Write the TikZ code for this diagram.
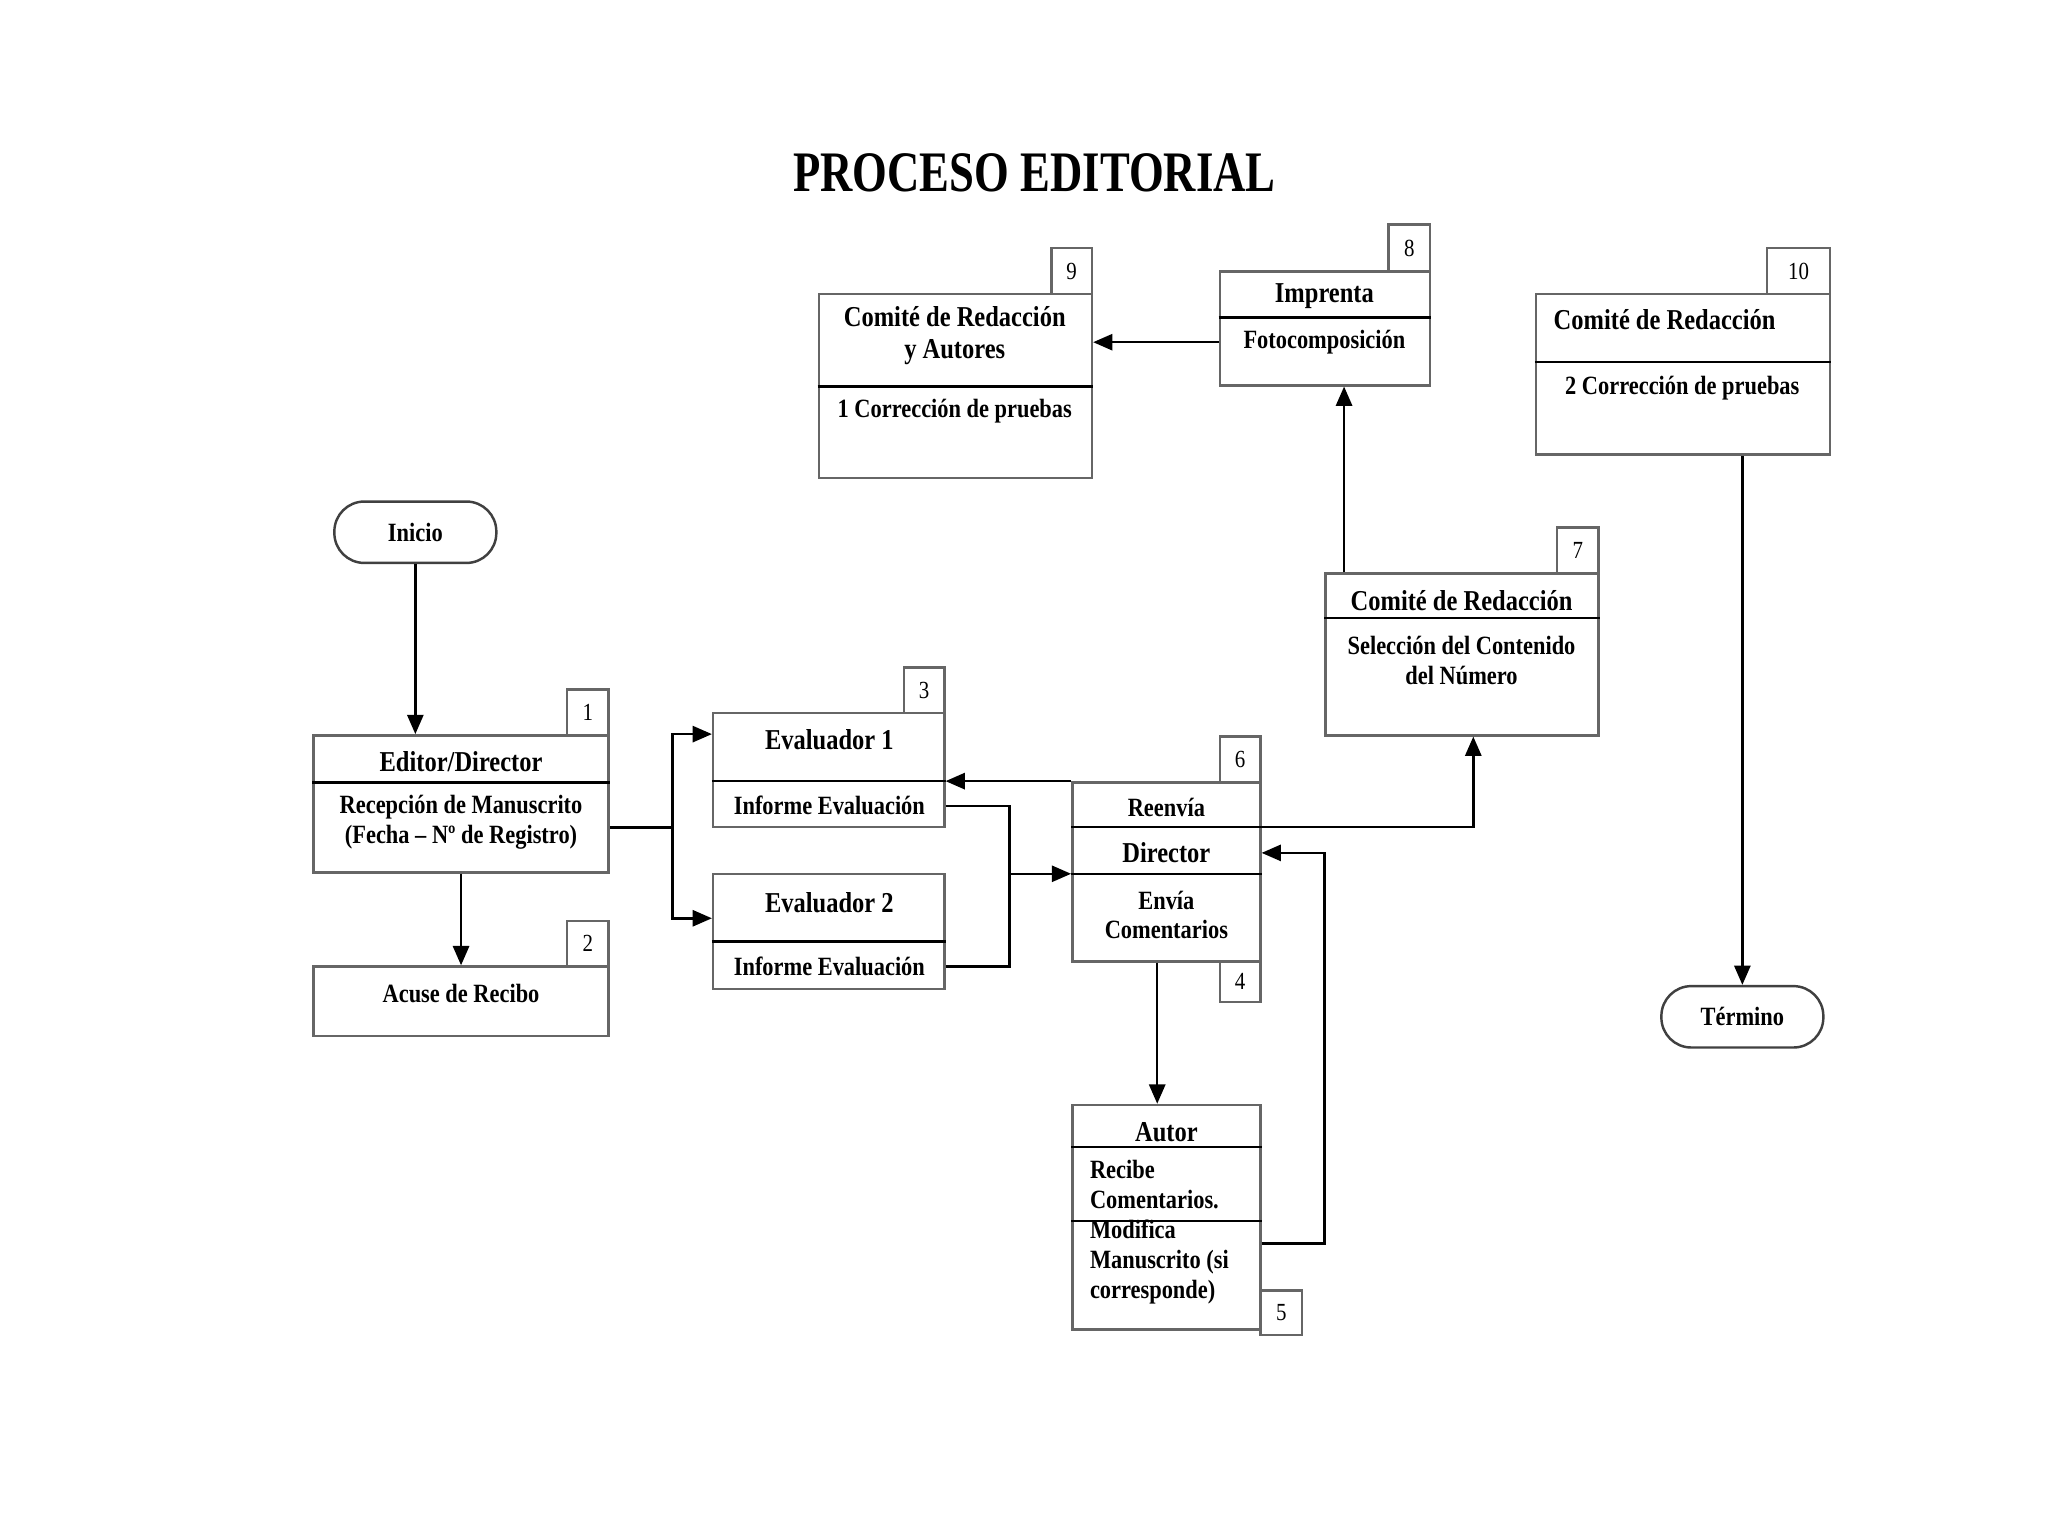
\documentclass[tikz,border=0pt]{standalone}
\usepackage{fontspec}
\setmainfont{Liberation Serif}[FakeStretch=0.85]
\newfontfamily\titlefont{Liberation Serif}[FakeStretch=0.78]
\usetikzlibrary{arrows.meta}
\usetikzlibrary{fit}
\usetikzlibrary{calc}

\tikzset{
  box/.style={draw=black!60, line width=0.7pt, inner sep=0pt},
  numbox/.style={draw=black!60, line width=0.7pt, inner sep=0pt},
  numtxt/.style={font=\fontsize{7}{8}\selectfont, inner sep=0pt},
  term/.style={draw=black!75, line width=0.7pt, rounded corners=8.5pt, inner sep=0pt},
  termtxt/.style={font=\fontsize{7.5}{8.6}\selectfont\bfseries, inner sep=0pt},
  hd/.style={font=\fontsize{8.2}{9.3}\selectfont\bfseries, align=center, inner sep=0pt},
  bd/.style={font=\fontsize{7.5}{8.5}\selectfont\bfseries, align=center, inner sep=0pt},
  divider/.style={black, line width=0.7pt},
  ln/.style={black, line width=0.7pt},
  arr/.style={ln, -{Triangle[length=5.5pt,width=4.6pt]}},
}

\begin{document}
\begin{tikzpicture}[x=0.01306cm, y=-0.01306cm]
    \fill[white] (0,0) rectangle (1568,1176);
    \useasboundingbox (0,0) rectangle (1568,1176);

    % Title
    \node[font=\titlefont\fontsize{16.3}{18}\selectfont\bfseries] (title) at (792,132) {PROCESO EDITORIAL};

    % Start and end
    \node[term, fit={(256,384) (380,431)}] (inicio) {};
    \node[termtxt] (inicio-t) at (inicio.center) {Inicio};
    \node[term, fit={(1272,755) (1396,802)}] (termino) {};
    \node[termtxt] (termino-t) at (termino.center) {Término};

    % Boxes
    \node[box, fit={(627,225) (836,366)}] (b9) {};
    \node[box, fit={(934,208) (1095,295)}] (b8) {};
    \node[box, fit={(1176,225) (1401,348)}] (b10) {};
    \node[box, fit={(1015,439) (1224,563)}] (b7) {};
    \node[box, fit={(240,563) (466,668)}] (b1) {};
    \node[box, fit={(240,740) (466,793)}] (b2) {};
    \node[box, fit={(546,546) (723,633)}] (ev1) {};
    \node[box, fit={(546,669) (723,757)}] (ev2) {};
    \node[box, fit={(821,599) (965,736)}] (b6) {};
    \node[box, fit={(821,846) (965,1018)}] (b5) {};

    % Number tags
    \foreach \n/\xa/\ya/\xb/\yb in {1/434/528/466/563, 2/434/705/466/740, 3/692/511/723/546,
        4/934/736/965/767, 5/965/988/997/1022, 6/934/564/965/599, 7/1192/404/1224/439,
        8/1063/172/1095/208, 9/805/190/836/225, 10/1353/190/1401/225} {
        \node[numbox, fit={(\xa,\ya) (\xb,\yb)}] (n\n) {};
        \node[numtxt] (n\n-t) at (n\n.center) {\n};
    }

    % Dividers
    \draw[divider] (b9.west |- 0,296) -- (b9.east |- 0,296);
    \draw[divider] (b8.west |- 0,243) -- (b8.east |- 0,243);
    \draw[divider] (b10.west |- 0,277) -- (b10.east |- 0,277);
    \draw[divider] (b7.west |- 0,473) -- (b7.east |- 0,473);
    \draw[divider] (b1.west |- 0,599) -- (b1.east |- 0,599);
    \draw[divider] (ev1.west |- 0,598) -- (ev1.east |- 0,598);
    \draw[divider] (ev2.west |- 0,721) -- (ev2.east |- 0,721);
    \draw[divider] (b6.west |- 0,633) -- (b6.east |- 0,633);
    \draw[divider] (b6.west |- 0,669) -- (b6.east |- 0,669);
    \draw[divider] (b5.west |- 0,878) -- (b5.east |- 0,878);
    \draw[divider] (b5.west |- 0,935) -- (b5.east |- 0,935);

    % Texts
    \node[hd] (t9) at (731,257) {Comité de Redacción\\y Autores};
    \node[bd] (t9b) at (731,315) {1 Corrección de pruebas};
    \node[hd] (t8) at (1014,227) {Imprenta};
    \node[bd] (t8b) at (1014,262) {Fotocomposición};
    \node[hd, anchor=west] (t10) at (1189,245) {Comité de Redacción};
    \node[bd] (t10b) at (1288,297) {2 Corrección de pruebas};
    \node[hd] (t7) at (1119,460) {Comité de Redacción};
    \node[bd] (t7b) at (1119,505.5) {Selección del Contenido\\del Número};
    \node[hd] (t1) at (353,583) {Editor/Director};
    \node[bd] (t1b) at (353,629.5) {Recepción de Manuscrito\\(Fecha – Nº de Registro)};
    \node[bd] (t2) at (353,761) {Acuse de Recibo};
    \node[hd] (te1) at (635,566) {Evaluador 1};
    \node[bd] (te1b) at (635,617) {Informe Evaluación};
    \node[hd] (te2) at (635,691) {Evaluador 2};
    \node[bd] (te2b) at (635,740) {Informe Evaluación};
    \node[bd] (t6a) at (893,618) {Reenvía};
    \node[hd] (t6b) at (893,653) {Director};
    \node[bd] (t6c) at (893,700.5) {Envía\\Comentarios};
    \node[hd] (t5) at (893,867) {Autor};
    \node[bd, align=left, anchor=west] (t5b) at (834,943.5) {Recibe\\Comentarios.\\Modifica\\Manuscrito (si\\corresponde)};

    % Connectors
    \draw[arr] (inicio.south) -- (inicio.south |- b1.north);
    \draw[arr] (b1.south) -- (b2.north);

    \coordinate (fork) at (515,633.5);
    \draw[ln] (b1.east |- fork) -- (fork);
    \draw[arr] (fork) |- ($(ev1.north west)+(0,17)$);
    \draw[arr] (fork) |- ($(ev2.north west)+(0,35)$);

    \coordinate (join) at (773,669);
    \draw[ln] (ev1.east |- te1b) -| (join);
    \draw[ln] (ev2.east |- te2b) -| (join);
    \draw[arr] (join) -- (join -| b6.west);

    \draw[arr] (b6.north west) -- (b6.north west -| ev1.east);

    \coordinate (r7) at (1128,633);
    \draw[arr] (b6.east |- r7) -- (r7) -- (r7 |- b7.south);

    \draw[arr] ($(b6.south)+(-7,0)$) -- ($(b5.north)+(-7,0)$);

    \coordinate (back) at (1014,952);
    \draw[arr] (b5.east |- back) -- (back) |- (b6.east |- t6b);

    \coordinate (up) at ($(b7.north west)+(15,0)$);
    \draw[arr] (up) -- (up |- b8.south);

    \draw[arr] (b8.west |- t8b) -- (b9.east |- t8b);

    \draw[arr] (termino.north |- b10.south) -- (termino.north);
\end{tikzpicture}
\end{document}
